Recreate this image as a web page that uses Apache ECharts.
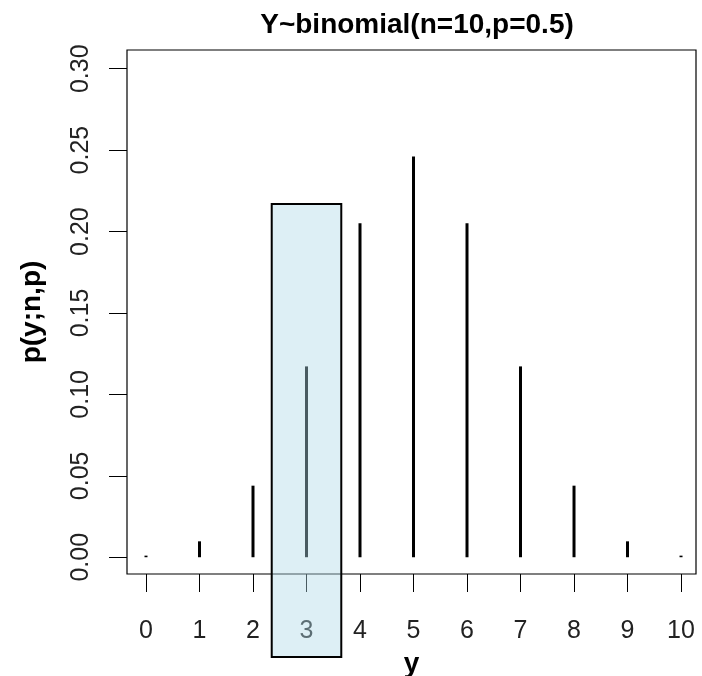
<!DOCTYPE html>
<html><head><meta charset="utf-8">
<script src="https://cdn.jsdelivr.net/npm/echarts@6/dist/echarts.min.js"></script>
<style>html,body{margin:0;padding:0;background:#fff}#c{width:702px;height:676px}</style>
</head><body><div id="c"></div>
<script>
const categories = [0,1,2,3,4,5,6,7,8,9,10];
const probs = [0.000977,0.009766,0.043945,0.117188,0.205078,0.246094,0.205078,0.117188,0.043945,0.009766,0.000977];
const yTicks = [0,0.05,0.10,0.15,0.20,0.25,0.30];
const xTicks = [0,1,2,3,4,5,6,7,8,9,10];
const highlightX = [2.35, 3.65];
const highlightY = [-0.0613, 0.217];

const FONT = 'Liberation Sans, Arial, sans-serif';
const chart = echarts.init(document.getElementById('c'), null, {renderer:'canvas'});
chart.setOption({
  animation:false,
  backgroundColor:'#fff',
  title:{text:'Y~binomial(n=10,p=0.5)', left:412, top:6, textAlign:'center',
    textStyle:{fontFamily:FONT, fontSize:28, fontWeight:'bold', color:'#000'}},
  grid:{left:127, right:6, top:50, bottom:102, outerBoundsMode:'none', containLabel:false,
    show:true, borderColor:'#000', borderWidth:1.2, backgroundColor:'transparent'},
  xAxis:{type:'value', min:-0.355, max:10.28,
    name:'y', nameLocation:'middle', nameGap:76,
    nameTextStyle:{fontFamily:FONT, fontSize:28, fontWeight:'bold', color:'#000'},
    axisLine:{show:false, onZero:false}, splitLine:{show:false},
    axisTick:{show:true, length:18, customValues:xTicks, lineStyle:{color:'#000'}},
    axisLabel:{customValues:xTicks, margin:45, fontFamily:FONT, fontSize:25, color:'#222'}},
  yAxis:{type:'value', min:-0.0103, max:0.3115,
    name:'p(y;n,p)', nameLocation:'middle', nameGap:81, nameRotate:90,
    nameTextStyle:{fontFamily:FONT, fontSize:28, fontWeight:'bold', color:'#000'},
    axisLine:{show:false, onZero:false}, splitLine:{show:false},
    axisTick:{show:true, length:18, customValues:yTicks, lineStyle:{color:'#000'}},
    axisLabel:{customValues:yTicks, rotate:90, margin:33, fontFamily:FONT, fontSize:25, color:'#222',
      formatter:v=>v.toFixed(2)}},
  series:[
    {type:'bar', data:categories.map((c,i)=>[c,probs[i]]), barWidth:3, itemStyle:{color:'#000'}, z:2},
    {type:'custom', z:10, clip:false, data:[[highlightX[0],highlightY[0],highlightX[1],highlightY[1]]],
      renderItem:function(params, api){
        const p1 = api.coord([api.value(0), api.value(3)]);
        const p2 = api.coord([api.value(2), api.value(1)]);
        return {type:'rect', shape:{x:p1[0], y:p1[1], width:p2[0]-p1[0], height:p2[1]-p1[1]},
          style:{fill:'rgba(173,216,230,0.42)', stroke:'#000', lineWidth:2}};
      }}
  ]
});
</script></body></html>
